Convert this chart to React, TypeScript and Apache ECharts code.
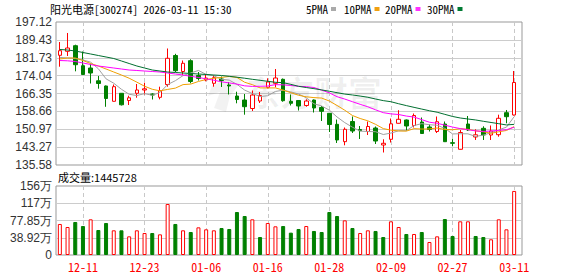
import React, { useEffect, useRef } from "react";
import * as echarts from "echarts";

// Trading sessions, 2025-12-08 .. 2026-03-11
const dates = [
  "12-08", "12-09", "12-10", "12-11", "12-12", "12-15", "12-16", "12-17", "12-18", "12-19",
  "12-22", "12-23", "12-24", "12-25", "12-26", "12-29", "12-30", "12-31", "01-05", "01-06",
  "01-07", "01-08", "01-09", "01-12", "01-13", "01-14", "01-15", "01-16", "01-19", "01-20",
  "01-21", "01-22", "01-23", "01-26", "01-27", "01-28", "01-29", "01-30", "02-02", "02-03",
  "02-04", "02-05", "02-06", "02-09", "02-10", "02-11", "02-12", "02-13", "02-24", "02-25",
  "02-26", "02-27", "03-02", "03-03", "03-04", "03-05", "03-06", "03-09", "03-10", "03-11",
];

const opens = [
  182.79, 184.51, 186.92, 178.31, 177.32, 171.82, 169.58, 162.99, 166.44, 163.34,
  166.44, 167.86, 166.13, 164.71, 170.22, 182.7, 175.82, 180.47, 174.1, 172.2,
  170.74, 172.6, 170.01, 165.27, 163.55, 159.89, 163.12, 169.02, 170.74, 172.46,
  163.0, 163.34, 161.19, 163.55, 160.33, 157.83, 153.09, 145.62, 154.3, 150.86,
  150.0, 151.5, 144.19, 146.64, 153.53, 154.95, 152.58, 154.08, 151.94, 150.0,
  153.22, 145.18, 142.34, 153.22, 147.63, 151.37, 148.49, 148.62, 158.09, 157.1,
];

const closes = [
  184.77, 185.93, 178.74, 174.53, 175.17, 170.65, 164.2, 169.28, 161.49, 164.5,
  167.86, 168.37, 165.7, 167.55, 181.5, 176.16, 179.35, 171.51, 172.81, 173.0,
  173.15, 171.94, 169.58, 163.77, 160.67, 165.7, 165.49, 171.3, 173.02, 163.25,
  162.13, 160.97, 163.12, 160.11, 158.69, 153.01, 146.34, 150.94, 150.21, 150.34,
  152.15, 145.9, 144.92, 153.31, 155.25, 152.37, 156.88, 149.14, 150.86, 154.21,
  145.61, 144.92, 149.57, 150.64, 148.58, 148.49, 150.21, 155.68, 156.37, 171.08,
];

const lows = [
  177.88, 182.49, 175.9, 174.3, 170.65, 168.42, 160.63, 162.91, 161.19, 161.4,
  164.54, 165.92, 163.77, 163.85, 169.28, 175.6, 174.3, 170.74, 171.94, 171.6,
  169.28, 169.15, 165.92, 162.13, 157.23, 158.82, 162.26, 168.5, 169.02, 162.82,
  161.19, 159.03, 160.67, 158.17, 154.52, 149.78, 145.05, 144.06, 149.35, 146.77,
  148.49, 144.62, 140.96, 145.26, 153.44, 150.3, 151.72, 148.92, 150.0, 149.35,
  145.48, 143.63, 142.25, 150.21, 146.34, 146.34, 146.34, 147.76, 153.53, 156.88,
];

const highs = [
  188.51, 192.39, 187.35, 184.42, 179.17, 173.88, 169.79, 170.22, 166.56, 165.4,
  170.44, 171.0, 166.44, 169.28, 185.72, 183.43, 180.55, 181.07, 175.6, 174.5,
  174.3, 173.67, 171.3, 167.12, 166.13, 167.64, 167.0, 172.89, 176.89, 172.8,
  165.92, 163.55, 163.85, 163.77, 160.97, 157.96, 155.16, 151.72, 156.45, 152.36,
  154.3, 152.15, 146.64, 155.59, 159.16, 155.16, 157.74, 156.02, 153.01, 156.45,
  154.3, 146.9, 150.64, 156.67, 150.94, 152.24, 152.58, 157.23, 159.25, 176.03,
];

const volumes = [
  700000, 632000, 745000, 654000, 805000, 564000, 722000, 557000, 557000, 421000,
  557000, 496000, 496000, 466000, 1151000, 700000, 557000, 519000, 624000, 579000,
  557000, 609000, 587000, 970000, 880000, 805000, 406000, 722000, 647000, 654000,
  504000, 587000, 654000, 542000, 519000, 970000, 880000, 782000, 609000, 496000,
  557000, 542000, 406000, 760000, 632000, 474000, 474000, 519000, 293000, 421000,
  812000, 429000, 760000, 760000, 429000, 406000, 354000, 805000, 579000, 1445728,
];

// Averages for the first sessions, whose windows reach back before 12-08
const ma5Lead = [181.9, 181.63, 181.41, 180.77];
const ma10Lead = [181.2, 181.63, 181.63, 180.55, 179.26, 178.19, 176.89, 175.6, 174.31];
const ma20Lead = [
  180.55, 180.42, 180.12, 179.48, 178.83, 178.18, 177.75, 177.32, 176.89, 176.46,
  176.25, 176.03, 175.82, 175.6, 175.17, 174.74, 174.31, 173.75, 173.24,
];
const ma30Lead = [
  185.29, 185.07, 184.64, 183.99, 183.35, 182.7, 182.06, 181.41, 180.34, 179.26,
  178.18, 177.32, 176.46, 176.03, 175.6, 175.39, 175.17, 174.96, 174.74, 174.53,
  174.31, 174.1, 173.75, 173.36, 172.93, 172.46, 172.03, 171.6, 171.17,
];

const priceTicks = ["135.58", "143.27", "150.97", "158.66", "166.35", "174.04", "181.73", "189.43", "197.12"];
const volumeTicks = ["0", "38.92万", "77.85万", "117万", "156万"];
const priceMin = 135.58;
const priceMax = 197.12;
const volumeMax = 1557000;

const maNames = ["5PMA", "10PMA", "20PMA", "30PMA"];
const maColors = ["#a0a0a0", "#f0a000", "#ff00ff", "#006f30"];
const keyColors = ["#aaaaaa", "#f0a010", "#ff33ff", "#007a33"];

const RED = "#ff0000";
const GREEN = "#008000";
const MONO = '"Noto Sans Mono CJK SC", "Noto Sans CJK SC", monospace';
const SANS = '"Liberation Sans", Arial, sans-serif';

function movingAverage(n: number, lead: number[]): number[] {
  return closes.map((_, i) => {
    if (i < n - 1) return lead[i];
    let sum = 0;
    for (let k = i - n + 1; k <= i; k++) sum += closes[k];
    return +(sum / n).toFixed(2);
  });
}

const labelEvery = (i: number) => (i - 3) % 8 === 0;

// Key in the header: name followed by a small colour swatch
function maKey(): any[] {
  const xs = [306, 344, 385, 427];
  const out: any[] = [];
  maNames.forEach((name, k) => {
    out.push({
      type: "text",
      x: xs[k],
      y: 9,
      style: { text: name, fill: "#000", font: `11px ${MONO}`, verticalAlign: "middle" },
    });
    const w = name.length * 5.5;
    out.push({
      type: "rect",
      shape: { x: xs[k] + w + 3, y: 7, width: 5, height: 4 },
      style: { fill: keyColors[k] },
    });
  });
  return out;
}

export default function App() {
  const ref = useRef<HTMLDivElement>(null);

  useEffect(() => {
    if (!ref.current) return;
    const chart = echarts.init(ref.current, undefined, { renderer: "svg" });

    const mas = [
      movingAverage(5, ma5Lead),
      movingAverage(10, ma10Lead),
      movingAverage(20, ma20Lead),
      movingAverage(30, ma30Lead),
    ];

    const dashedSplit = {
      show: true,
      interval: labelEvery,
      alignWithLabel: true,
      lineStyle: { color: "#c8c8c8", type: [4, 3], width: 1 },
    };

    const volumeData = volumes.map((v, i) => {
      const up = i === 0 ? closes[0] >= opens[0] : closes[i] >= closes[i - 1];
      return {
        value: v,
        itemStyle: up
          ? { color: "#ffffff", borderColor: RED, borderWidth: 1 }
          : { color: GREEN, borderColor: GREEN, borderWidth: 1 },
      };
    });

    chart.setOption({
      animation: false,
      backgroundColor: "#ffffff",
      grid: [
        { left: 56, top: 22, width: 462, height: 143 },
        { left: 56, top: 186, width: 462, height: 69 },
        { left: 56, top: 22, width: 466, height: 143, show: true, borderColor: "#999", borderWidth: 1 },
        { left: 56, top: 186, width: 466, height: 69, show: true, borderColor: "#999", borderWidth: 1 },
      ],
      xAxis: [
        {
          type: "category",
          gridIndex: 0,
          data: dates,
          axisLine: { show: false },
          axisTick: { show: false },
          axisLabel: { show: false },
          splitLine: dashedSplit,
        },
        {
          type: "category",
          gridIndex: 1,
          data: dates,
          axisLine: { show: false },
          axisTick: { show: false },
          axisLabel: {
            show: true,
            interval: labelEvery,
            color: RED,
            fontFamily: MONO,
            fontSize: 12,
            margin: 5,
          },
          splitLine: dashedSplit,
        },
        { type: "value", gridIndex: 2, show: false, min: 0, max: 1 },
        { type: "value", gridIndex: 3, show: false, min: 0, max: 1 },
      ],
      yAxis: [
        { type: "value", gridIndex: 0, min: priceMin, max: priceMax, show: false },
        { type: "value", gridIndex: 1, min: 0, max: volumeMax, show: false },
        {
          type: "value",
          gridIndex: 2,
          min: 0,
          max: priceTicks.length - 1,
          interval: 1,
          axisLine: { show: false },
          axisTick: { show: false },
          axisLabel: {
            formatter: (v: number) => priceTicks[v],
            color: "#333",
            fontFamily: SANS,
            fontSize: 12,
            margin: 4,
          },
          splitLine: {
            show: true,
            showMinLine: false,
            showMaxLine: false,
            lineStyle: { color: "#cccccc", width: 1 },
          },
        },
        {
          type: "value",
          gridIndex: 3,
          min: 0,
          max: volumeTicks.length - 1,
          interval: 1,
          axisLine: { show: false },
          axisTick: { show: false },
          axisLabel: {
            formatter: (v: number) => volumeTicks[v],
            color: "#333",
            fontFamily: SANS,
            fontSize: 12,
            margin: 4,
          },
          splitLine: {
            show: true,
            showMinLine: false,
            showMaxLine: false,
            lineStyle: { color: "#cccccc", width: 1 },
          },
        },
      ],
      graphic: [
        {
          type: "polygon",
          z: 1,
          silent: true,
          shape: {
            points: [
              [232, 76], [244, 78], [230, 96], [226, 112], [214, 108], [220, 92], [208, 96], [212, 86],
            ],
          },
          style: { fill: "rgba(0,0,0,0.05)" },
        },
        {
          type: "text",
          x: 246,
          y: 74,
          z: 1,
          silent: true,
          style: {
            text: "东方财富",
            fill: "rgba(0,0,0,0.06)",
            font: 'bold 34px "Noto Sans CJK SC"',
          },
        },
        {
          type: "text",
          x: 50,
          y: 9,
          style: {
            text: "阳光电源[300274] 2026-03-11 15:30",
            fill: "#000",
            font: `11px ${MONO}`,
            verticalAlign: "middle",
          },
        },
        ...maKey(),
        {
          type: "text",
          x: 58,
          y: 177,
          style: {
            text: `成交量:${volumes[volumes.length - 1]}`,
            fill: "#000",
            font: '11px "Noto Sans CJK SC"',
            verticalAlign: "middle",
          },
        },
      ],
      series: [
        {
          type: "candlestick",
          xAxisIndex: 0,
          yAxisIndex: 0,
          barWidth: 4,
          z: 3,
          data: dates.map((_, i) => [opens[i], closes[i], lows[i], highs[i]]),
          itemStyle: {
            color: "#ffffff",
            color0: GREEN,
            borderColor: RED,
            borderColor0: GREEN,
            borderWidth: 1,
          },
        },
        ...maNames.map((name, k) => ({
          type: "line",
          name,
          xAxisIndex: 0,
          yAxisIndex: 0,
          data: mas[k],
          showSymbol: false,
          symbol: "none",
          color: maColors[k],
          lineStyle: { width: 1, color: maColors[k] },
          z: 4,
        })),
        {
          type: "bar",
          xAxisIndex: 1,
          yAxisIndex: 1,
          barWidth: 4,
          data: volumeData,
          z: 3,
        },
      ],
    });

    return () => chart.dispose();
  }, []);

  return (
    <div
      ref={ref}
      style={{ position: "absolute", left: 0, top: 0, width: 578, height: 276 }}
    />
  );
}
